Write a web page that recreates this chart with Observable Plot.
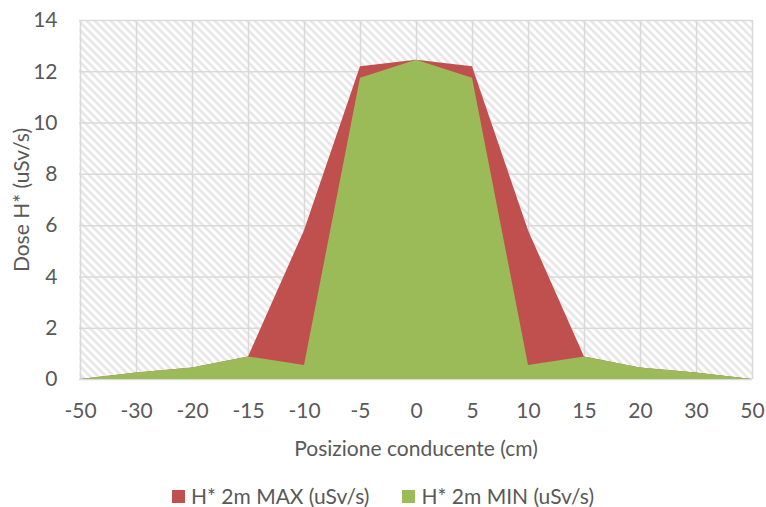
<!DOCTYPE html>
<html>
<head>
<meta charset="utf-8">
<script src="https://cdn.jsdelivr.net/npm/d3@7"></script>
<script src="https://cdn.jsdelivr.net/npm/@observablehq/plot@0.6"></script>
<style>
  html, body { margin: 0; padding: 0; background: #fff; }
  #chart { width: 766px; }
  .legend {
    display: flex; justify-content: center; align-items: center;
    gap: 33px; padding-top: 14px; padding-right: 0px;
    font-family: Lato, "Open Sans", sans-serif; font-size: 21px; color: #595959;
    line-height: 24px;
  }
  .legend span.item { display: flex; align-items: center; gap: 6px; }
  .legend span.swatch { width: 13px; height: 13px; display: inline-block; }
</style>
</head>
<body>
<div id="chart"></div>
<script>
// Driver position along the vehicle (cm) and measured ambient dose rate at 2 m
const positions = ["-50", "-30", "-20", "-15", "-10", "-5", "0", "5", "10", "15", "20", "30", "50"];
const doseMax = [0, 0.25, 0.45, 0.88, 5.8, 12.2, 12.45, 12.2, 5.8, 0.88, 0.45, 0.25, 0];
const doseMin = [0, 0.25, 0.45, 0.88, 0.55, 11.75, 12.45, 11.75, 0.55, 0.88, 0.45, 0.25, 0];
const yTicks = [0, 2, 4, 6, 8, 10, 12, 14];
const seriesNames = ["H* 2m MAX (uSv/s)", "H* 2m MIN (uSv/s)"];
const seriesColors = ["#c0504d", "#9bbb59"];
const xTitle = "Posizione conducente (cm)";
const yTitle = "Dose H* (uSv/s)";

const rows = positions.map((p, i) => ({pos: p, max: doseMax[i], min: doseMin[i]}));

const gridStyle = {stroke: "#d9d9d9", strokeWidth: 1.5, strokeOpacity: 1};
const textStyle = {fontSize: 21, fill: "#595959"};

const chart = Plot.plot({
  width: 766,
  height: 470,
  marginTop: 20,
  marginBottom: 91,
  marginLeft: 79,
  marginRight: 14,
  style: {fontFamily: "Lato, 'Open Sans', sans-serif", fontSize: "21px", color: "#595959", background: "#fff"},
  x: {type: "point", domain: positions, padding: 0},
  y: {domain: [0, 14]},
  marks: [
    Plot.frame({fill: "url(#hatch)", stroke: null}),
    Plot.gridY(yTicks, gridStyle),
    Plot.gridX(positions, gridStyle),
    Plot.areaY(rows, {x: "pos", y: "max", fill: seriesColors[0]}),
    Plot.areaY(rows, {x: "pos", y: "min", fill: seriesColors[1]}),
    Plot.axisY(yTicks, {tickSize: 0, tickPadding: 22, label: null, ...textStyle}),
    Plot.axisX(positions, {tickSize: 0, tickPadding: 24, label: null, ...textStyle}),
    Plot.text([yTitle], {frameAnchor: "left", textAnchor: "middle", rotate: -90, dx: -57, ...textStyle}),
    Plot.text([xTitle], {frameAnchor: "bottom", textAnchor: "middle", dy: 76, ...textStyle})
  ]
});

// Diagonal hatch fill for the plotting area
const ns = "http://www.w3.org/2000/svg";
const defs = document.createElementNS(ns, "defs");
const pattern = document.createElementNS(ns, "pattern");
pattern.setAttribute("id", "hatch");
pattern.setAttribute("patternUnits", "userSpaceOnUse");
pattern.setAttribute("width", "5.66");
pattern.setAttribute("height", "5.66");
pattern.setAttribute("patternTransform", "rotate(-45)");
const bg = document.createElementNS(ns, "rect");
bg.setAttribute("width", "5.66");
bg.setAttribute("height", "5.66");
bg.setAttribute("fill", "#ffffff");
const stripe = document.createElementNS(ns, "rect");
stripe.setAttribute("width", "2.6");
stripe.setAttribute("height", "5.66");
stripe.setAttribute("fill", "#e6e6e6");
pattern.appendChild(bg);
pattern.appendChild(stripe);
defs.appendChild(pattern);
chart.insertBefore(defs, chart.firstChild);

document.getElementById("chart").appendChild(chart);

// Legend below the chart
const legend = document.createElement("div");
legend.className = "legend";
seriesNames.forEach((name, i) => {
  const item = document.createElement("span");
  item.className = "item";
  const sw = document.createElement("span");
  sw.className = "swatch";
  sw.style.background = seriesColors[i];
  const label = document.createElement("span");
  label.textContent = name;
  item.appendChild(sw);
  item.appendChild(label);
  legend.appendChild(item);
});
document.getElementById("chart").appendChild(legend);
</script>
</body>
</html>
